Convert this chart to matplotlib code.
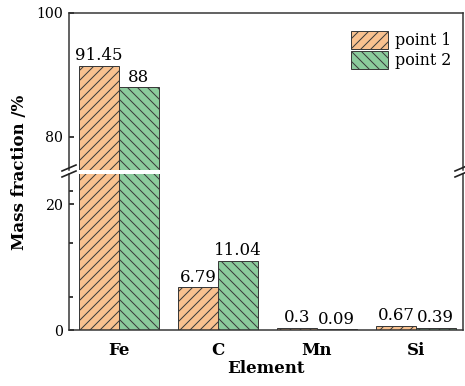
import numpy as np
import matplotlib.pyplot as plt
from matplotlib.lines import Line2D

elements = ["Fe", "C", "Mn", "Si"]
point1 = [91.45, 6.79, 0.3, 0.67]
point2 = [88, 11.04, 0.09, 0.39]
labels1 = ["91.45", "6.79", "0.3", "0.67"]
labels2 = ["88", "11.04", "0.09", "0.39"]

plt.rcParams['font.family'] = 'DejaVu Serif'
plt.rcParams['hatch.linewidth'] = 0.6

W, H = 465, 386
dpi = 120
fig = plt.figure(figsize=(W / dpi, H / dpi), dpi=dpi)

def px_box(x0, y0, x1, y1):
    # pixel box (top-left origin) -> figure fraction rect
    return [x0 / W, 1 - y1 / H, (x1 - x0) / W, (y1 - y0) / H]

ax_top = fig.add_axes(px_box(69, 13, 463, 170))
ax_bot = fig.add_axes(px_box(69, 174, 463, 330))

x = np.arange(len(elements))
w = 0.4
c1 = "#F9C18F"
c2 = "#8BCB9C"
edge = "#3a3a3a"

for ax in (ax_top, ax_bot):
    ax.bar(x - w / 2, point1, w, color=c1, edgecolor=edge, linewidth=0.6,
           hatch="////", label="point 1")
    ax.bar(x + w / 2, point2, w, color=c2, edgecolor=edge, linewidth=0.6,
           hatch="\\\\\\\\", label="point 2")
    ax.set_xlim(-0.505, 3.475)
    for s in ax.spines.values():
        s.set_linewidth(0.9)
        s.set_color("#333333")

ax_top.set_ylim(74.6, 100)
ax_bot.set_ylim(0, 24.8)

ax_top.spines['bottom'].set_visible(False)
ax_bot.spines['top'].set_visible(False)
ax_top.set_xticks([])
ax_top.set_yticks([80, 100])
ax_bot.set_yticks([0, 20])
ax_bot.set_yticks([5.2, 13.8, 22.1], minor=True)
ax_bot.set_xticks(x)
ax_bot.set_xticklabels(elements, fontsize=10, fontweight='bold')
ax_bot.tick_params(axis='x', length=0, pad=7)
for ax in (ax_top, ax_bot):
    ax.tick_params(axis='y', which='major', direction='in', length=3, width=0.9,
                   labelsize=8.5, pad=3.5)
    ax.tick_params(axis='y', which='minor', direction='in', length=2.5, width=0.9)

# value labels
for i in range(len(elements)):
    for ax in (ax_top, ax_bot):
        lo, hi = ax.get_ylim()
        if lo <= point1[i] <= hi:
            ax.annotate(labels1[i], (x[i] - w / 2, point1[i]), xytext=(0, 1),
                        textcoords='offset points', ha='center', va='bottom', fontsize=10)
        if lo <= point2[i] <= hi:
            ax.annotate(labels2[i], (x[i] + w / 2, point2[i]), xytext=(0, 1),
                        textcoords='offset points', ha='center', va='bottom', fontsize=10)

ax_top.legend(loc='upper right', bbox_to_anchor=(0.985, 0.925), frameon=False,
              fontsize=9.5, handlelength=2.35, handleheight=1.35, labelspacing=0.1,
              handletextpad=0.4, borderaxespad=0)

ax_bot.set_xlabel("Element", fontsize=10, fontweight='bold', labelpad=1)
fig.text(20 / W, 1 - 172 / H, "Mass fraction /%", rotation=90, fontsize=10,
         fontweight='bold', ha='center', va='center')

# break marks
for xc in (69, 462):
    for yc in (168, 174):
        fig.add_artist(Line2D([(xc - 7) / W, (xc + 7) / W],
                              [1 - (yc + 3) / H, 1 - (yc - 3) / H],
                              color="#222222", linewidth=1.0))

fig.savefig("out.png", dpi=dpi)
